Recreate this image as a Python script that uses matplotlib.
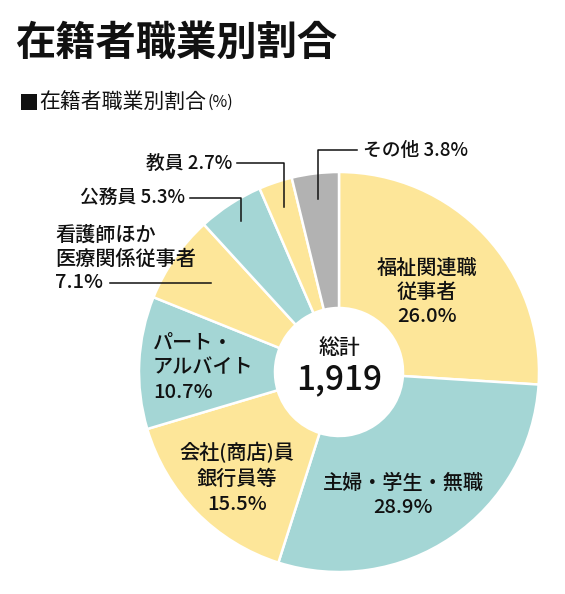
import numpy as np
import matplotlib.pyplot as plt

plt.rcParams['font.family'] = ['Noto Sans CJK JP', 'DejaVu Sans']

W, H = 565, 594

title = "在籍者職業別割合"
subtitle = "在籍者職業別割合"
unit = "(%)"
total = "1,919"
total_label = "総計"

categories = ["福祉関連職\n従事者", "主婦・学生・無職", "会社(商店)員\n銀行員等",
              "パート・\nアルバイト", "看護師ほか\n医療関係従事者", "公務員", "教員", "その他"]
values = [26.0, 28.9, 15.5, 10.7, 7.1, 5.3, 2.7, 3.8]

yellow, teal, gray = '#fde699', '#a4d6d5', '#b2b2b2'
colors = [yellow, teal, yellow, teal, yellow, teal, yellow, gray]


def Y(y):
    # pixel rows from the top -> data y (up)
    return H - y


fig = plt.figure(figsize=(W / 100, H / 100), dpi=100)
ax = fig.add_axes([0, 0, 1, 1])

cx, cy, R, r_in = 339, 372, 200, 64
wedges, _ = ax.pie(values, colors=colors, startangle=90, counterclock=False,
                   center=(cx, Y(cy)), radius=R,
                   wedgeprops=dict(width=R - r_in, edgecolor='white', linewidth=1.8))
ax.set_xlim(0, W)
ax.set_ylim(0, H)
ax.set_aspect('equal')
ax.axis('off')

ink = '#111111'


def block(x, y0, text, ha='center', size=14.5, step=24.5):
    for i, line in enumerate(text.split('\n')):
        ax.text(x, Y(y0 + i * step), line, ha=ha, va='center', fontsize=size,
                color=ink, fontweight='medium')


def mid_point(i, frac):
    w = wedges[i]
    a = np.deg2rad((w.theta1 + w.theta2) / 2)
    return cx + frac * R * np.cos(a), Y(cy) + frac * R * np.sin(a)


def pct(v):
    return f"{v:.1f}%"


# labels inside the ring
block(427, 268, categories[0] + "\n" + pct(values[0]))
block(403, 483, categories[1] + "\n" + pct(values[1]))
block(237, 453, categories[2] + "\n" + pct(values[2]), step=26)
block(153, 343, categories[3] + "\n" + pct(values[3]), ha='left')

# labels outside with leader lines
block(55, 235, categories[4] + "\n" + pct(values[4]), ha='left', size=14.5, step=24)
ex, ey = mid_point(4, 0.78)
ax.plot([110, ex], [ey, ey], color=ink, lw=1.1)

ax.text(185, Y(198), f"{categories[5]} {pct(values[5])}", ha='right', va='center',
        fontsize=13.5, color=ink, fontweight='medium')
ex, ey = mid_point(5, 0.9)
ax.plot([190, ex, ex], [Y(198), Y(198), ey], color=ink, lw=1.1)

ax.text(232, Y(163), f"{categories[6]} {pct(values[6])}", ha='right', va='center',
        fontsize=13.5, color=ink, fontweight='medium')
ex, ey = mid_point(6, 0.87)
ax.plot([237, ex, ex], [Y(163), Y(163), ey], color=ink, lw=1.1)

ax.text(363, Y(150), f"{categories[7]} {pct(values[7])}", ha='left', va='center',
        fontsize=13.5, color=ink, fontweight='medium')
ex, ey = mid_point(7, 0.87)
ax.plot([357, ex, ex], [Y(150), Y(150), ey], color=ink, lw=1.1)

# centre
ax.text(cx, Y(348), total_label, ha='center', va='center', fontsize=15, color=ink,
        fontweight='medium')
ax.text(cx, Y(380), total, ha='center', va='center', fontsize=24, color=ink,
        fontweight='medium')

# titles
ax.text(15, Y(43), title, ha='left', va='center', fontsize=29, fontweight='bold', color=ink)
# black square marker before the subtitle
ax.add_patch(plt.Rectangle((21, Y(110)), 16, 16, color=ink, lw=0))
st = ax.text(39, Y(102), subtitle, ha='left', va='center', fontsize=15, color=ink)
ax.annotate(unit, xy=(1, 0.5), xycoords=st, xytext=(1, 0), textcoords='offset points',
            ha='left', va='center', fontsize=11.5, color=ink)

fig.savefig('out.png', dpi=100)
